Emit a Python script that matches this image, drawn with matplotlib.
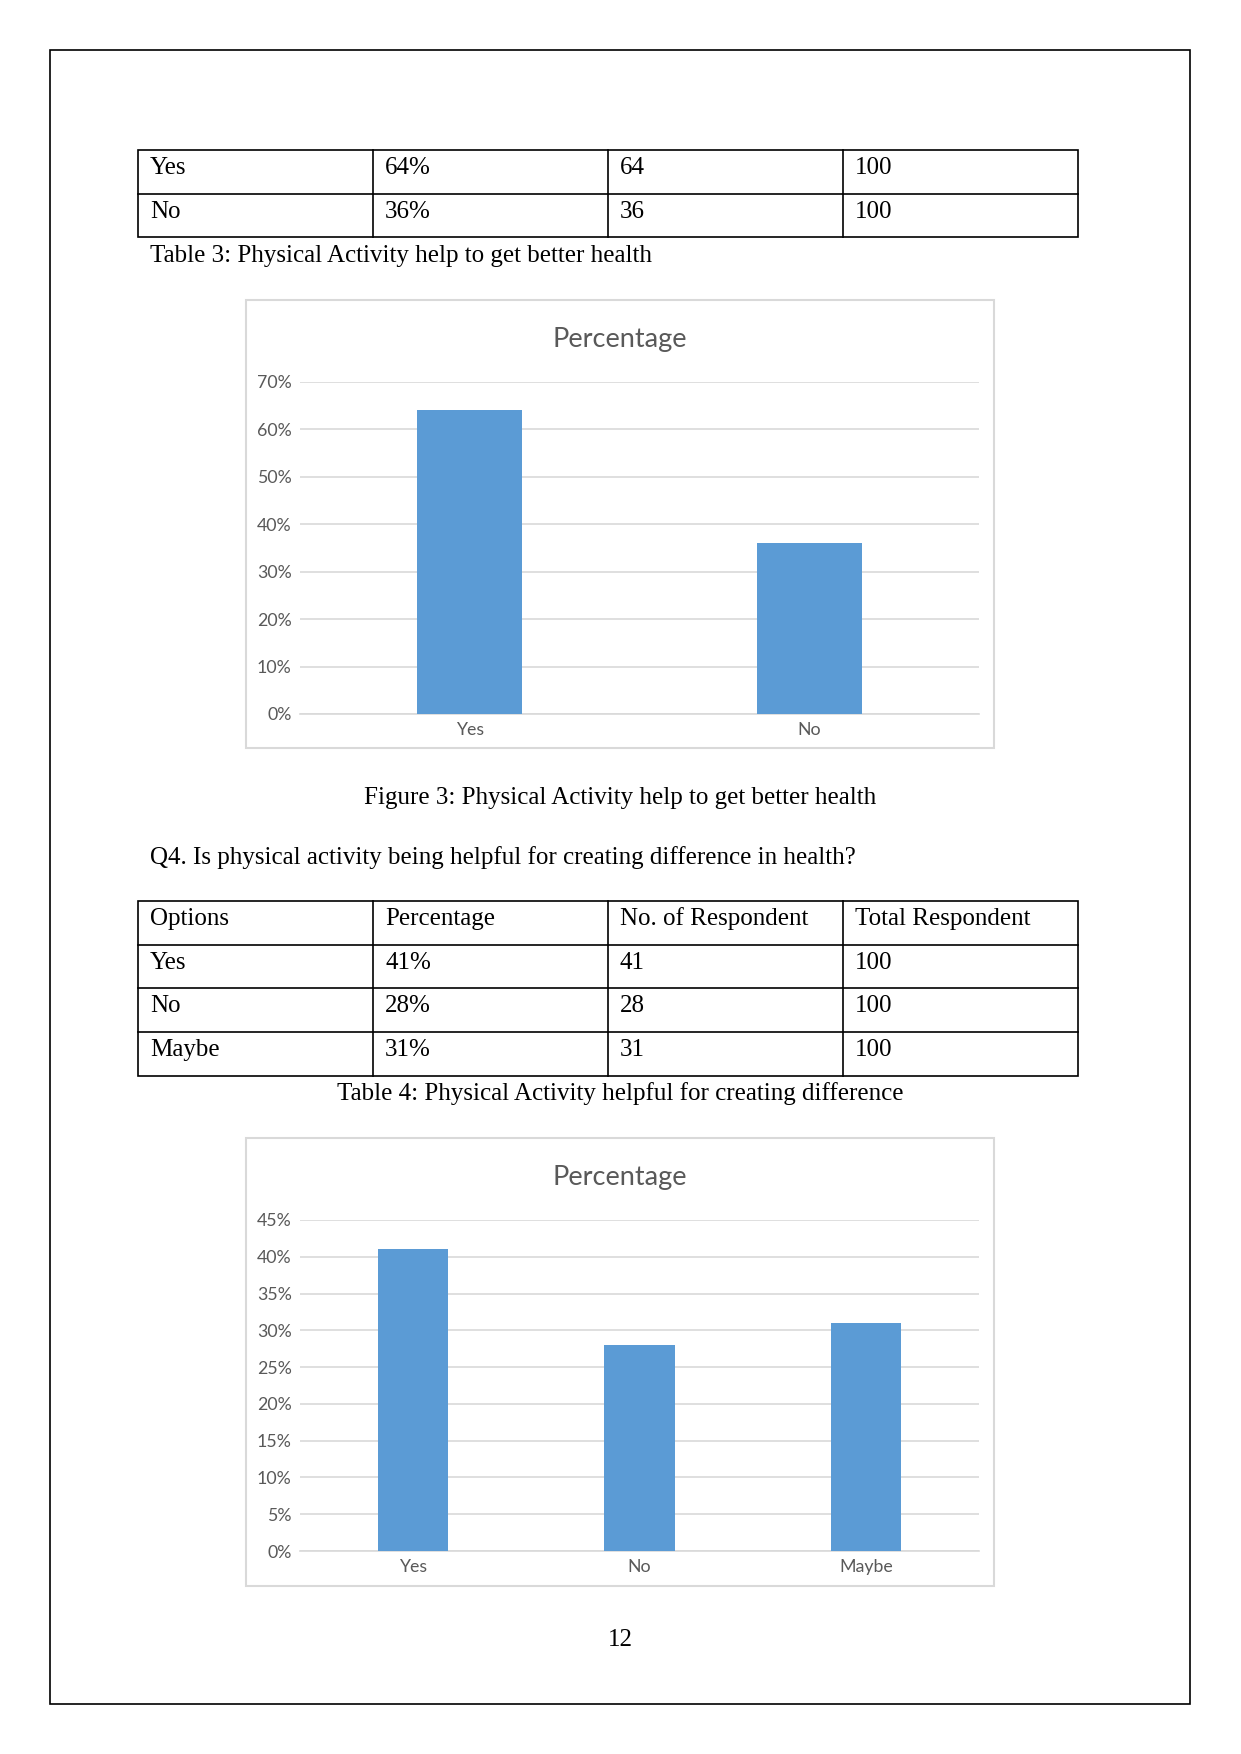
import matplotlib
matplotlib.use("Agg")
import matplotlib.pyplot as plt
from matplotlib.patches import Rectangle
from matplotlib.ticker import PercentFormatter, MultipleLocator

# data
q3_options = ["Yes", "No"]
q3_pct = [0.64, 0.36]
q3_count = [64, 36]
q3_total = [100, 100]

q4_options = ["Yes", "No", "Maybe"]
q4_pct = [0.41, 0.28, 0.31]
q4_count = [41, 28, 31]
q4_total = [100, 100, 100]

header = ["Options", "Percentage", "No. of Respondent", "Total Respondent"]

W, H = 1241, 1754
BAR = "#5B9BD5"
GRID = "#D9D9D9"
TXT = "#595959"
SERIF = "Liberation Serif"
SANS = "Lato"

fig = plt.figure(figsize=(W / 150, H / 150), dpi=150)


def fx(x):
    return x / W


def fy(y):
    return 1 - y / H


def text(x, y, s, **kw):
    kw.setdefault("family", SERIF)
    kw.setdefault("fontsize", 12)
    kw.setdefault("va", "center")
    fig.text(fx(x), fy(y), s, **kw)


def rect(x0, y0, x1, y1, color="black", lw=0.8):
    fig.patches.append(Rectangle((fx(x0), fy(y1)), fx(x1) - fx(x0), fy(y0) - fy(y1),
                                 transform=fig.transFigure, fill=False,
                                 edgecolor=color, linewidth=lw))


def hline(y, x0, x1):
    fig.add_artist(plt.Line2D([fx(x0), fx(x1)], [fy(y), fy(y)], color="black", lw=0.8,
                              transform=fig.transFigure))


def vline(x, y0, y1):
    fig.add_artist(plt.Line2D([fx(x), fx(x)], [fy(y0), fy(y1)], color="black", lw=0.8,
                              transform=fig.transFigure))


def table(rows, top, row_h=43.7):
    cols = [138, 373, 608, 843, 1078]
    bottom = top + row_h * len(rows)
    rect(cols[0], top, cols[-1], bottom)
    for i in range(1, len(rows)):
        hline(top + row_h * i, cols[0], cols[-1])
    for c in cols[1:-1]:
        vline(c, top, bottom)
    for i, row in enumerate(rows):
        for j, cell in enumerate(row):
            text(cols[j] + 12, top + row_h * i + 18, cell)


def chart(options, pct, box, plot, ymax, step):
    bx0, by0, bx1, by1 = box
    rect(bx0, by0, bx1, by1, color=GRID, lw=1.0)
    text((bx0 + bx1) / 2, by0 + 40, "Percentage", family=SANS, fontsize=13,
         color=TXT, ha="center")
    px0, py0, px1, py1 = plot
    ax = fig.add_axes([fx(px0), fy(py1), fx(px1) - fx(px0), fy(py0) - fy(py1)])
    x = range(len(options))
    ax.bar(x, pct, width=0.31, color=BAR, zorder=3)
    ax.set_xlim(-0.5, len(options) - 0.5)
    ax.set_ylim(0, ymax)
    ax.yaxis.set_major_locator(MultipleLocator(step))
    ax.yaxis.set_major_formatter(PercentFormatter(1.0, decimals=0))
    ax.set_xticks(list(x))
    ax.set_xticklabels(options)
    ax.grid(axis="y", color=GRID, lw=0.8, zorder=0)
    for s in ["top", "right", "left"]:
        ax.spines[s].set_visible(False)
    ax.spines["bottom"].set_color(GRID)
    ax.spines["bottom"].set_linewidth(0.8)
    ax.tick_params(length=0, labelsize=8.5, labelcolor=TXT, pad=4)
    for lab in ax.get_xticklabels() + ax.get_yticklabels():
        lab.set_family(SANS)
    ax.set_facecolor("none")


# page border
rect(50, 50, 1190, 1704, lw=0.8)

# table 3
rows3 = [[o, f"{round(p * 100)}%", str(c), str(t)]
         for o, p, c, t in zip(q3_options, q3_pct, q3_count, q3_total)]
table(rows3, 150)
text(150, 256, "Table 3: Physical Activity help to get better health")

chart(q3_options, q3_pct, (246, 300, 994, 748), (300, 382, 979, 714), 0.70, 0.10)
text(620, 798, "Figure 3: Physical Activity help to get better health", ha="center")

text(150, 858, "Q4. Is physical activity being helpful for creating difference in health?")

rows4 = [header] + [[o, f"{round(p * 100)}%", str(c), str(t)]
                    for o, p, c, t in zip(q4_options, q4_pct, q4_count, q4_total)]
table(rows4, 901)
text(620, 1094, "Table 4: Physical Activity helpful for creating difference", ha="center")

chart(q4_options, q4_pct, (246, 1138, 994, 1586), (300, 1220, 979, 1551), 0.45, 0.05)

text(620, 1640, "12", ha="center")

fig.savefig("out.png", dpi=150)
plt.close(fig)
